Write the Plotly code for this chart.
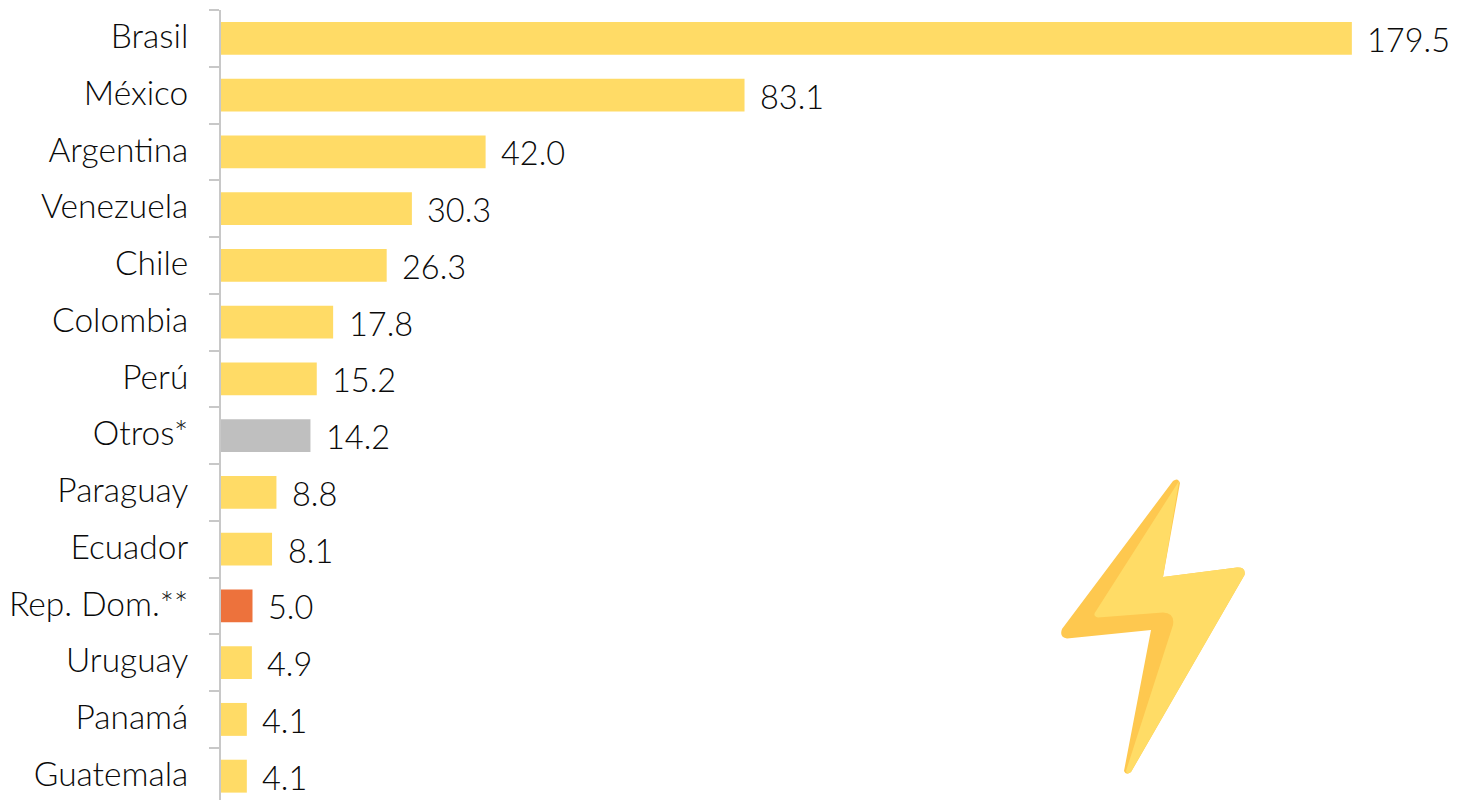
import plotly.graph_objects as go

categories = ["Brasil", "México", "Argentina", "Venezuela", "Chile", "Colombia", "Perú", "Otros*",
              "Paraguay", "Ecuador", "Rep. Dom.**", "Uruguay", "Panamá", "Guatemala"]
values = [179.5, 83.1, 42.0, 30.3, 26.3, 17.8, 15.2, 14.2, 8.8, 8.1, 5.0, 4.9, 4.1, 4.1]
YELLOW, GREY, ORANGE = "#FFDB66", "#BFBFBF", "#ED723C"
colors = [GREY if c == "Otros*" else ORANGE if c.startswith("Rep") else YELLOW for c in categories]
FONT = "Lato Light, Lato, sans-serif"
PAGE = 8                      # default page margin of the browser body
W, H, ML, MT = 1465 - PAGE, 800 - PAGE, 221 - PAGE, 10 - PAGE


def px(path):
    """Decorative icon outline: screen pixels -> paper fractions."""
    out = []
    for tok in path.split():
        if "," in tok:
            a, b = tok.split(",")
            cmd = ""
            if a[0].isalpha():
                cmd, a = a[0], a[1:]
            out.append(f"{cmd}{(float(a) - PAGE - ML) / (W - ML):.5f},{1 - (float(b) - PAGE - MT) / (H - MT):.5f}")
        else:
            out.append(tok)
    return " ".join(out)


bolt_dark = ("M1173,481 Q1178,477 1180,483 L1163,577 L1237,567.5 Q1246,567 1244.5,575 L1131,772 "
             "Q1126,776 1124,771 L1151,630 L1067,638.5 Q1059,637 1062,629 Z")
bolt_light = ("M1179,481 L1163,577 L1237,567.5 Q1246,567 1244.5,575 L1131,772 Q1127,775 1126,771 "
              "L1173,625 Q1175,613 1163,612.5 L1098,617.5 Q1092,616 1096,611 Z")

fig = go.Figure(go.Bar(
    x=values, y=categories, orientation="h", width=0.58,
    marker=dict(color=colors, line_width=0), hoverinfo="skip",
))
for c, v in zip(categories, values):
    fig.add_annotation(x=v, y=c, text=f"{v:.1f}", showarrow=False, xanchor="left", xshift=13.5, yshift=-1,
                       font=dict(family=FONT, size=32.5, color="#0A0A0A"))

fig.update_layout(
    width=W, height=H, margin=dict(l=ML, r=0, t=MT, b=0),
    paper_bgcolor="white", plot_bgcolor="white", showlegend=False,
    shapes=[
        dict(type="path", xref="paper", yref="paper", path=px(bolt_dark), fillcolor="#FEC84F", line_width=0, layer="above"),
        dict(type="path", xref="paper", yref="paper", path=px(bolt_light), fillcolor="#FFDC66", line_width=0, layer="above"),
    ],
)
fig.update_xaxes(range=[0, (W - ML) / 6.3], visible=False)
fig.update_yaxes(
    type="category", categoryorder="array", categoryarray=categories,
    range=[13.42, -0.5], tickson="boundaries", ticks="outside", ticklen=10, tickwidth=2, tickcolor="#C8C8C8",
    showline=True, linewidth=2, linecolor="#C8C8C8", showgrid=False, zeroline=False,
    ticklabelstandoff=24, ticklabelshift=2, tickfont=dict(family=FONT, size=33.5, color="#0A0A0A"),
)
fig.write_html("out.html")
